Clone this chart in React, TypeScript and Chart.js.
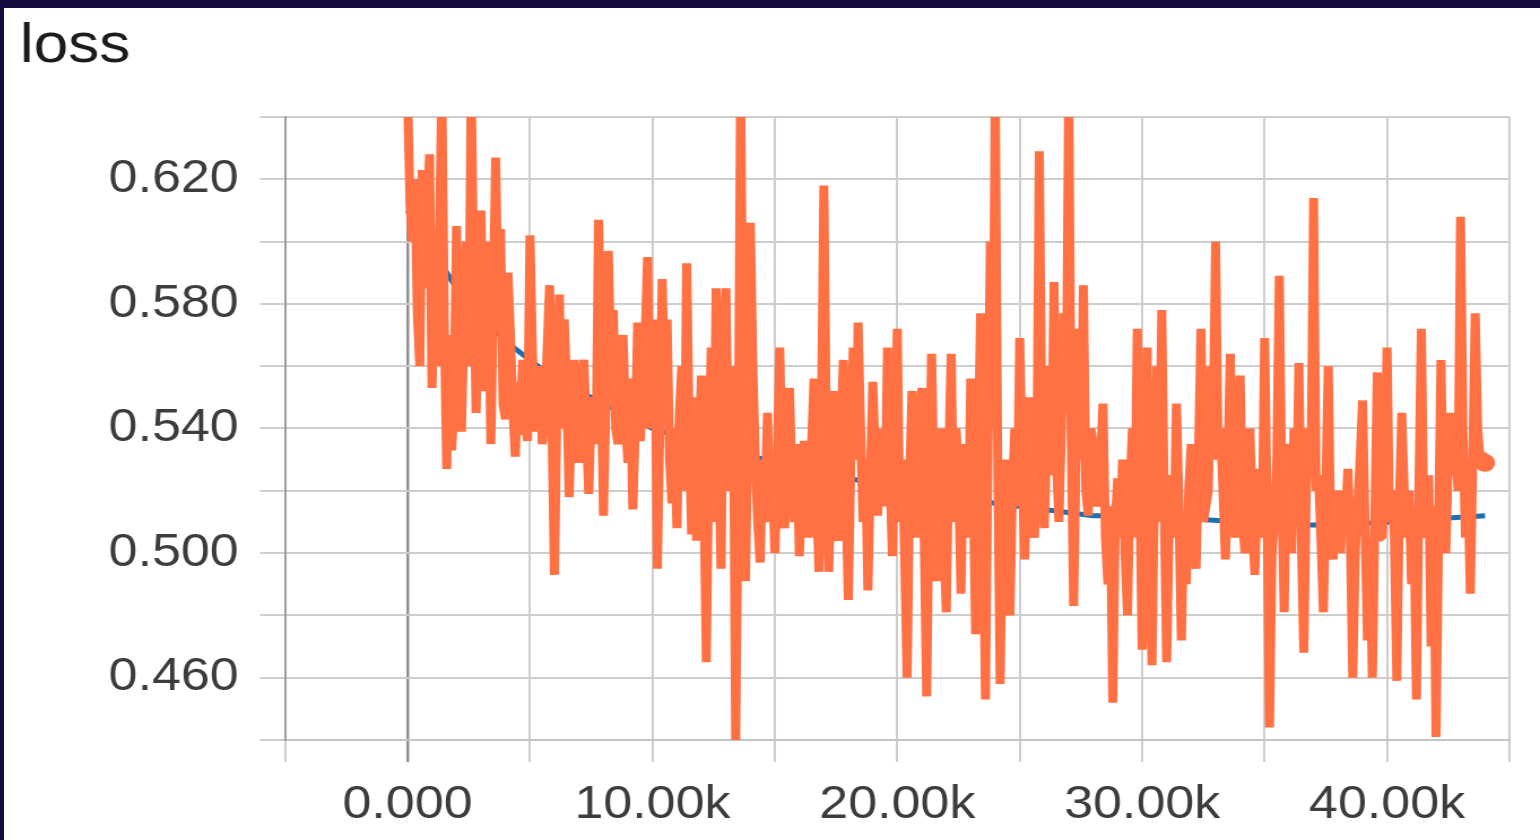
import React, { useEffect, useRef } from "react";
import { Chart, registerables } from "chart.js";

Chart.register(...registerables);

// Raw training loss, logged every 100 steps.
const LOG_INTERVAL = 100;
const lossValues: number[] = [
  0.648, 0.612, 0.600, 0.620, 0.577, 0.560, 0.623, 0.585, 0.610, 0.628,
  0.553, 0.590, 0.560, 0.600, 0.650, 0.575, 0.527, 0.570, 0.533, 0.548,
  0.605, 0.560, 0.539, 0.572, 0.600, 0.560, 0.650, 0.590, 0.545, 0.585,
  0.610, 0.552, 0.565, 0.600, 0.535, 0.580, 0.627, 0.575, 0.604, 0.548,
  0.543, 0.590, 0.570, 0.546, 0.531, 0.555, 0.538, 0.562, 0.545, 0.536,
  0.602, 0.565, 0.539, 0.555, 0.560, 0.535, 0.544, 0.565, 0.586, 0.540,
  0.493, 0.548, 0.583, 0.540, 0.575, 0.552, 0.518, 0.546, 0.562, 0.540,
  0.529, 0.555, 0.562, 0.540, 0.519, 0.545, 0.550, 0.535, 0.607, 0.560,
  0.512, 0.548, 0.597, 0.560, 0.578, 0.540, 0.535, 0.560, 0.570, 0.542,
  0.529, 0.556, 0.514, 0.540, 0.574, 0.536, 0.550, 0.568, 0.595, 0.540,
  0.550, 0.575, 0.495, 0.540, 0.588, 0.548, 0.575, 0.530, 0.516, 0.540,
  0.508, 0.545, 0.560, 0.520, 0.593, 0.540, 0.506, 0.550, 0.504, 0.530,
  0.557, 0.520, 0.465, 0.530, 0.566, 0.510, 0.585, 0.540, 0.495, 0.560,
  0.585, 0.530, 0.520, 0.560, 0.438, 0.520, 0.650, 0.560, 0.491, 0.540,
  0.606, 0.560, 0.530, 0.510, 0.497, 0.530, 0.518, 0.545, 0.510, 0.525,
  0.500, 0.530, 0.566, 0.520, 0.508, 0.540, 0.553, 0.520, 0.510, 0.535,
  0.499, 0.520, 0.536, 0.515, 0.505, 0.535, 0.556, 0.520, 0.494, 0.540,
  0.618, 0.540, 0.494, 0.525, 0.552, 0.515, 0.504, 0.540, 0.562, 0.520,
  0.485, 0.530, 0.566, 0.530, 0.574, 0.540, 0.510, 0.530, 0.488, 0.525,
  0.555, 0.530, 0.512, 0.540, 0.530, 0.515, 0.566, 0.525, 0.499, 0.540,
  0.572, 0.510, 0.530, 0.500, 0.460, 0.520, 0.552, 0.525, 0.505, 0.540,
  0.553, 0.505, 0.454, 0.520, 0.564, 0.520, 0.491, 0.530, 0.540, 0.505,
  0.481, 0.530, 0.564, 0.510, 0.540, 0.525, 0.487, 0.535, 0.520, 0.505,
  0.556, 0.520, 0.474, 0.530, 0.577, 0.515, 0.453, 0.530, 0.600, 0.540,
  0.650, 0.530, 0.458, 0.520, 0.530, 0.505, 0.480, 0.520, 0.540, 0.515,
  0.569, 0.530, 0.498, 0.525, 0.550, 0.510, 0.505, 0.530, 0.629, 0.540,
  0.508, 0.535, 0.560, 0.525, 0.587, 0.530, 0.510, 0.540, 0.577, 0.545,
  0.650, 0.540, 0.483, 0.530, 0.572, 0.530, 0.586, 0.520, 0.512, 0.540,
  0.535, 0.515, 0.520, 0.530, 0.548, 0.505, 0.490, 0.515, 0.452, 0.510,
  0.524, 0.505, 0.530, 0.500, 0.480, 0.520, 0.540, 0.505, 0.572, 0.520,
  0.469, 0.520, 0.566, 0.500, 0.464, 0.520, 0.560, 0.510, 0.578, 0.515,
  0.465, 0.510, 0.525, 0.505, 0.548, 0.515, 0.472, 0.510, 0.490, 0.520,
  0.535, 0.505, 0.495, 0.530, 0.572, 0.510, 0.515, 0.520, 0.560, 0.540,
  0.600, 0.530, 0.540, 0.520, 0.498, 0.530, 0.564, 0.515, 0.505, 0.535,
  0.557, 0.510, 0.500, 0.525, 0.540, 0.510, 0.493, 0.520, 0.527, 0.505,
  0.569, 0.515, 0.444, 0.500, 0.510, 0.530, 0.589, 0.520, 0.481, 0.535,
  0.530, 0.500, 0.540, 0.515, 0.561, 0.505, 0.468, 0.520, 0.540, 0.530,
  0.614, 0.520, 0.525, 0.505, 0.481, 0.520, 0.560, 0.505, 0.498, 0.520,
  0.515, 0.500, 0.520, 0.510, 0.527, 0.505, 0.460, 0.500, 0.515, 0.530,
  0.549, 0.510, 0.472, 0.505, 0.460, 0.510, 0.558, 0.505, 0.505, 0.525,
  0.566, 0.510, 0.520, 0.505, 0.459, 0.515, 0.545, 0.520, 0.505, 0.520,
  0.490, 0.510, 0.453, 0.520, 0.572, 0.510, 0.505, 0.525, 0.470, 0.515,
  0.441, 0.505, 0.562, 0.515, 0.500, 0.530, 0.545, 0.525, 0.535, 0.520,
  0.608, 0.540, 0.505, 0.525, 0.487, 0.530, 0.577, 0.540, 0.530, 0.532,
  0.529,
];
const lossSteps: number[] = lossValues.map((_, i) => i * LOG_INTERVAL);

// Smoothed loss (exponential moving average), sampled every 2k steps.
const smoothSteps: number[] = [
  0, 2000, 4000, 6000, 8000, 10000, 12000, 14000, 16000, 18000, 20000, 22000,
  24000, 26000, 28000, 30000, 32000, 34000, 36000, 38000, 40000, 42000, 44000,
];
const smoothValues: number[] = [
  0.610, 0.585, 0.568, 0.556, 0.548, 0.540, 0.535, 0.531, 0.528, 0.524, 0.521, 0.518,
  0.516, 0.514, 0.512, 0.512, 0.511, 0.510, 0.509, 0.509, 0.510, 0.511, 0.512,
];

// Axis ranges and tick spacing.
const X_MIN = -5000;
const X_MAX = 45000;
const X_GRID_STEP = 5000;
const Y_MIN = 0.44;
const Y_MAX = 0.64;
const Y_GRID_STEP = 0.02;

const ORANGE = "#ff7043";
const BLUE = "#1b6fb5";
const NAVY = "#150c3c";
const FONT = "'Liberation Sans', Arial, Helvetica, sans-serif";

// The panel is drawn on a narrower bitmap and widened by CSS.
const PANEL_W = 1536;
const PANEL_H = 832;
const STRETCH = 1.13;
const CANVAS_W = Math.round(PANEL_W / STRETCH);

function formatStep(v: number): string {
  if (v === 0) return "0.000";
  return (v / 1000).toFixed(2) + "k";
}

export default function App() {
  const canvasRef = useRef<HTMLCanvasElement | null>(null);

  useEffect(() => {
    const canvas = canvasRef.current;
    if (!canvas) return;
    const lastIndex = lossValues.length - 1;

    const chart = new Chart(canvas, {
      type: "line",
      data: {
        datasets: [
          {
            label: "loss",
            data: lossSteps.map((s, i) => ({ x: s, y: lossValues[i] })),
            borderColor: ORANGE,
            backgroundColor: ORANGE,
            borderWidth: 8,
            borderJoinStyle: "bevel",
            tension: 0,
            pointRadius: (ctx: any) => (ctx.dataIndex === lastIndex ? 9 : 0),
            pointBackgroundColor: ORANGE,
            pointBorderWidth: 0,
            clip: 0,
            order: 0,
          },
          {
            label: "loss (smoothed)",
            data: smoothSteps.map((s, i) => ({ x: s, y: smoothValues[i] })),
            borderColor: BLUE,
            backgroundColor: BLUE,
            borderWidth: 5,
            tension: 0,
            pointRadius: 0,
            clip: 0,
            order: 1,
          },
        ],
      },
      options: {
        responsive: false,
        animation: false,
        devicePixelRatio: 1,
        layout: { padding: { left: 14, right: 27, top: 0, bottom: 0 } },
        plugins: {
          legend: { display: false },
          tooltip: { enabled: false },
          title: {
            display: true,
            text: "loss",
            align: "start",
            color: "#1c1c1c",
            font: { family: FONT, size: 55, weight: "normal", lineHeight: 1.2 },
            padding: { top: 6, bottom: 37 },
          },
        },
        scales: {
          x: {
            type: "linear",
            min: X_MIN,
            max: X_MAX,
            afterFit: (scale: any) => {
              scale.height = 100;
            },
            ticks: {
              stepSize: X_GRID_STEP,
              autoSkip: false,
              maxRotation: 0,
              padding: 16,
              color: "#3c3c3c",
              font: { family: FONT, size: 46 },
              callback: (value: any) => {
                const v = Number(value);
                return v >= 0 && v <= 40000 && v % 10000 === 0 ? formatStep(v) : "";
              },
            },
            grid: {
              color: (ctx: any) => (ctx.tick && ctx.tick.value === 0 ? "#8e8e8e" : "#cdcdcd"),
              lineWidth: (ctx: any) => (ctx.tick && ctx.tick.value === 0 ? 2.5 : 2),
              tickLength: 22,
            },
            border: { display: true, color: "#c4c4c4", width: 2 },
          },
          y: {
            type: "linear",
            min: Y_MIN,
            max: Y_MAX,
            afterFit: (scale: any) => {
              scale.width = 234.7;
            },
            ticks: {
              stepSize: Y_GRID_STEP,
              autoSkip: false,
              padding: 19,
              color: "#3c3c3c",
              font: { family: FONT, size: 46 },
              callback: (value: any) => {
                const hundredths = Math.round(Number(value) * 100);
                return hundredths % 4 === 2 ? Number(value).toFixed(3) : "";
              },
            },
            grid: {
              color: "#cdcdcd",
              lineWidth: 2,
              tickLength: 22,
            },
            border: { display: true, color: "#9c9c9c", width: 2 },
          },
        },
      },
    } as any);

    return () => {
      chart.destroy();
    };
  }, []);

  return (
    <div
      style={{
        position: "fixed",
        left: 0,
        top: 0,
        width: 1540,
        height: 840,
        background: NAVY,
        overflow: "hidden",
      }}
    >
      <div
        style={{
          position: "absolute",
          left: 4,
          top: 8,
          width: PANEL_W,
          height: PANEL_H,
          background: "#ffffff",
        }}
      >
        <canvas
          ref={canvasRef}
          width={CANVAS_W}
          height={PANEL_H}
          style={{ display: "block", width: PANEL_W + "px", height: PANEL_H + "px" }}
        />
      </div>
    </div>
  );
}
